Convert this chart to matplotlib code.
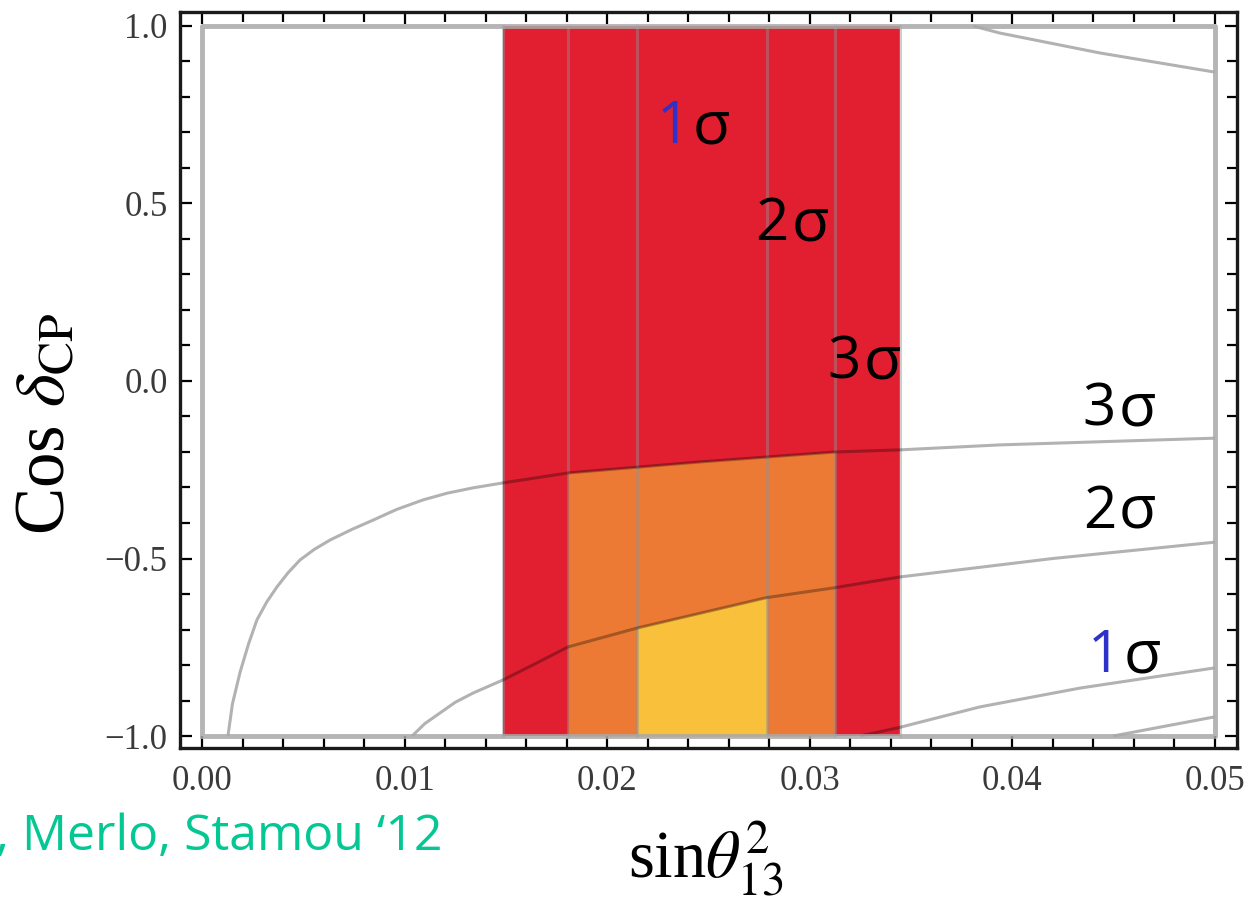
import numpy as np
import matplotlib
matplotlib.use("Agg")
import matplotlib.pyplot as plt
from matplotlib.ticker import MultipleLocator, FixedLocator

plt.rcParams['mathtext.fontset'] = 'stix'

# allowed sin^2(theta13) bands (3, 2, 1 sigma)
band_3sig = [0.01486, 0.03445]
band_2sig = [0.01807, 0.03124]
band_1sig = [0.02147, 0.02789]

# cos(delta_CP) contours vs sin^2(theta13)
c3_x = [0.00128, 0.00150, 0.00188, 0.00230, 0.00271, 0.00320, 0.00370, 0.00425,
        0.00484, 0.00555, 0.00632, 0.00740, 0.00844, 0.00960, 0.01091, 0.01210,
        0.01338, 0.01486, 0.01807, 0.02458, 0.03124, 0.03445, 0.03939, 0.05]
c3_y = [-1.0, -0.91, -0.820, -0.740, -0.673, -0.622, -0.580, -0.540,
        -0.504, -0.474, -0.448, -0.418, -0.392, -0.362, -0.335, -0.316,
        -0.301, -0.287, -0.259, -0.228, -0.200, -0.194, -0.180, -0.161]

c2_x = [0.01037, 0.01100, 0.01175, 0.01250, 0.01338, 0.01486, 0.01650, 0.01807,
        0.02147, 0.02789, 0.03115, 0.03445, 0.04200, 0.05]
c2_y = [-1.0, -0.965, -0.935, -0.905, -0.879, -0.842, -0.795, -0.749,
        -0.696, -0.610, -0.583, -0.552, -0.500, -0.454]

c1_x = [0.03248, 0.03435, 0.03840, 0.04334, 0.05]
c1_y = [-1.0, -0.977, -0.918, -0.865, -0.808]

c0_x = [0.04497, 0.04729, 0.05]
c0_y = [-1.0, -0.975, -0.946]

ctop_x = [0.03806, 0.03939, 0.04432, 0.05]
ctop_y = [1.0, 0.980, 0.924, 0.870]

xticks = [0.00, 0.01, 0.02, 0.03, 0.04, 0.05]
xtick_labels = ["0.00", "0.01", "0.02", "0.03", "0.04", "0.05"]
yticks = [-1.0, -0.5, 0.0, 0.5, 1.0]
ytick_labels = ["\u22121.0", "\u22120.5", "0.0", "0.5", "1.0"]

red = "#E21F30"
orange = "#EC7A34"
yellow = "#F9C13B"

fig = plt.figure(figsize=(12.58, 9.01), dpi=100)
ax = fig.add_axes([0.1431, 0.1698, 0.8402, 0.8169])

# 3 sigma band: full height
ax.fill_between(band_3sig, -1, 1, color=red, lw=0, zorder=1)

# 2 sigma band below the 3 sigma contour
c3x = np.array(c3_x)
c3y = np.array(c3_y)
m = (c3x >= band_2sig[0] - 1e-9) & (c3x <= band_2sig[1] + 1e-9)
ax.fill_between(c3x[m], -1, c3y[m], color=orange, lw=0, zorder=2)

# 1 sigma band below the 2 sigma contour
c2x = np.array(c2_x)
c2y = np.array(c2_y)
m = (c2x >= band_1sig[0] - 1e-9) & (c2x <= band_1sig[1] + 1e-9)
ax.fill_between(c2x[m], -1, c2y[m], color=yellow, lw=0, zorder=3)

# band edges
for xv in band_3sig + band_2sig + band_1sig:
    ax.plot([xv, xv], [-1, 1], color="#909090", alpha=0.45, lw=2.2, zorder=4)

# contours
for cx, cy in [(c3_x, c3_y), (c2_x, c2_y), (c1_x, c1_y), (c0_x, c0_y), (ctop_x, ctop_y)]:
    ax.plot(cx, cy, color="black", alpha=0.3, lw=2.2, zorder=5, solid_capstyle="butt")

# inner plot-range frame
ax.plot([0, 0.05, 0.05, 0, 0], [-1, -1, 1, 1, -1], color="#a8a8a8", alpha=0.85,
        lw=3.5, zorder=6)

ax.set_xlim(-0.001086, 0.05109)
ax.set_ylim(-1.0338, 1.0394)

ax.xaxis.set_major_locator(FixedLocator(xticks))
ax.set_xticklabels(xtick_labels)
ax.yaxis.set_major_locator(FixedLocator(yticks))
ax.set_yticklabels(ytick_labels)
ax.xaxis.set_minor_locator(MultipleLocator(0.002))
ax.yaxis.set_minor_locator(MultipleLocator(0.1))

ax.tick_params(which="both", direction="in", top=True, right=True, color="black",
               width=1.6)
ax.tick_params(which="major", length=8.5)
ax.tick_params(which="minor", length=7)
ax.tick_params(axis="x", which="major", pad=12)
ax.tick_params(axis="y", which="major", pad=9)
for lab in ax.get_xticklabels() + ax.get_yticklabels():
    lab.set_fontfamily("Liberation Serif")
    lab.set_fontsize(25)
    lab.set_color("#3a3a3a")

for sp in ax.spines.values():
    sp.set_linewidth(2.4)
    sp.set_color("#1a1a1a")

ax.set_ylabel(r"Cos $\delta_{\rm CP}$", fontsize=51, family="Liberation Serif")
ax.yaxis.set_label_coords(-0.095, 0.44)
ax.set_xlabel(r"sin$\theta_{13}^{2}$", fontsize=48, family="Liberation Serif")
ax.xaxis.set_label_coords(0.497, -0.098)

# sigma labels
labels = [("1", 0.02246, 0.670), ("2", 0.02730, 0.397), ("3", 0.03085, 0.008),
          ("3", 0.04348, -0.124), ("2", 0.04348, -0.414), ("1", 0.04373, -0.820)]
for num, lx, ly in labels:
    col = "#2E32C8" if num == "1" else "black"
    t = ax.text(lx, ly, num, color=col, fontsize=42, family="Open Sans",
                ha="left", va="baseline", zorder=10)
    ax.annotate("\u03c3", xy=(1, 0), xycoords=t, xytext=(2, 0),
                textcoords="offset points", fontsize=44, family="Open Sans",
                ha="left", va="bottom", color="black", zorder=10)

fig.text(-0.003, 0.0566, ", Merlo, Stamou \u201812", color="#05C793", fontsize=36,
         family="Open Sans", ha="left", va="baseline")

fig.savefig("out.png", dpi=100)
